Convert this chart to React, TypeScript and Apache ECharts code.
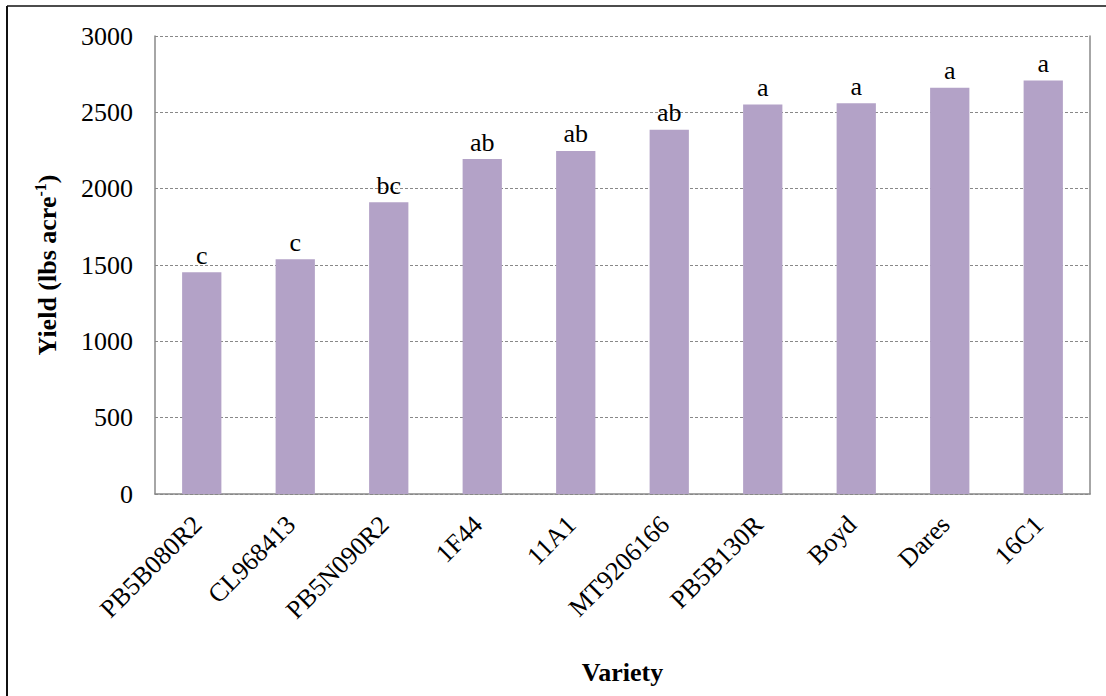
import React, { useEffect, useRef } from "react";
import * as echarts from "echarts";

const categories = ["PB5B080R2", "CL968413", "PB5N090R2", "1F44", "11A1", "MT9206166", "PB5B130R", "Boyd", "Dares", "16C1"];
const yieldValues = [1452, 1537, 1911, 2194, 2247, 2386, 2552, 2559, 2661, 2709];
const letters = ["c", "c", "bc", "ab", "ab", "ab", "a", "a", "a", "a"];
const yTicks = { min: 0, max: 3000, interval: 500 };

const FONT = "Liberation Serif";

export default function App() {
  const ref = useRef<HTMLDivElement>(null);
  useEffect(() => {
    if (!ref.current) return;
    const chart = echarts.init(ref.current, null, { renderer: "svg" });
    chart.setOption({
      animation: false,
      backgroundColor: "#fff",
      textStyle: { fontFamily: FONT },
      grid: { left: 155, top: 36, right: 16, bottom: 202, containLabel: false },
      graphic: [
        { type: "line", shape: { x1: 7, y1: 6, x2: 1106, y2: 6 }, style: { stroke: "#111", lineWidth: 1.5 } },
        { type: "line", shape: { x1: 7, y1: 6, x2: 7, y2: 696 }, style: { stroke: "#111", lineWidth: 2 } },
      ],
      xAxis: {
        type: "category",
        data: categories,
        axisLine: { show: true, lineStyle: { color: "#888", width: 1.5 } },
        axisTick: { show: false },
        axisLabel: {
          rotate: 45,
          interval: 0,
          margin: 22,
          color: "#000",
          fontFamily: FONT,
          fontSize: 26,
          padding: [30, 6, 0, 0],
        },
        name: "Variety",
        nameLocation: "middle",
        nameGap: 165,
        nameTextStyle: { color: "#000", fontFamily: FONT, fontSize: 26, fontWeight: "bold" },
      },
      yAxis: [
        {
          type: "value",
          min: yTicks.min,
          max: yTicks.max,
          interval: yTicks.interval,
          axisLine: { show: true, lineStyle: { color: "#888", width: 1.5 } },
          axisTick: { show: false },
          splitLine: { show: true, lineStyle: { color: "#888", type: [3, 2], width: 1 } },
          axisLabel: { color: "#000", fontFamily: FONT, fontSize: 26, margin: 22, formatter: (v: number) => String(v) },
          name: "{t|Yield (lbs acre}{s|-1}{t|)}",
          nameLocation: "middle",
          nameGap: 93,
          nameTextStyle: {
            color: "#000",
            fontFamily: FONT,
            fontWeight: "bold",
            fontSize: 26,
            rich: {
              t: { fontFamily: FONT, fontWeight: "bold", fontSize: 26, color: "#000", lineHeight: 30 },
              s: { fontFamily: FONT, fontWeight: "bold", fontSize: 16, color: "#000", verticalAlign: "top", lineHeight: 30 },
            },
          },
        },
        {
          type: "value",
          position: "right",
          min: yTicks.min,
          max: yTicks.max,
          interval: yTicks.interval,
          axisLine: { show: true, lineStyle: { color: "#888", width: 1.5 } },
          axisTick: { show: false },
          axisLabel: { show: false },
          splitLine: { show: false },
        },
      ],
      series: [
        {
          type: "bar",
          data: yieldValues,
          barWidth: "42%",
          itemStyle: { color: "#B3A2C7" },
          label: {
            show: true,
            position: "top",
            distance: 4,
            color: "#000",
            fontFamily: FONT,
            fontSize: 26,
            formatter: (p: any) => letters[p.dataIndex],
          },
        },
      ],
    });
    return () => chart.dispose();
  }, []);
  return <div ref={ref} style={{ position: "fixed", left: 0, top: 0, width: 1106, height: 696 }} />;
}
